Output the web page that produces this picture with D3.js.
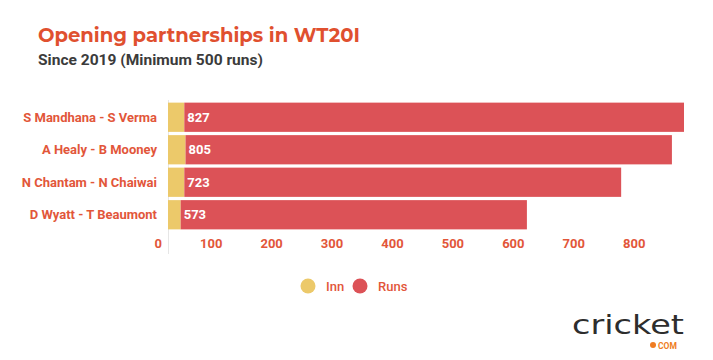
<!DOCTYPE html>
<html><head><meta charset="utf-8">
<script src="https://cdn.jsdelivr.net/npm/d3@7"></script>
<style>body{margin:0;background:#fff;}svg{display:block;}</style>
</head><body>
<svg id="c" width="713" height="360"></svg>
<script>
const categories = ["S Mandhana - S Verma","A Healy - B Mooney","N Chantam - N Chaiwai","D Wyatt - T Beaumont"];
const innValues = [27, 29, 27, 21];
const runsValues = [827, 805, 723, 573];
const tickValues = [0,100,200,300,400,500,600,700,800];
const seriesNames = ["Inn","Runs"];
const seriesColors = ["#ecc96a","#dc5257"];

const svg = d3.select("#c");
const orange = "#e2563a";

svg.append("text").attr("x",38).attr("y",42).text("Opening partnerships in WT20I")
  .attr("font-family","Montserrat, 'Noto Sans', sans-serif").attr("font-weight",700).attr("font-size",20).attr("fill","#e0502f")
  .attr("textLength",322).attr("lengthAdjust","spacingAndGlyphs");
svg.append("text").attr("x",38).attr("y",65).text("Since 2019 (Minimum 500 runs)")
  .attr("font-family","Roboto, sans-serif").attr("font-weight",700).attr("font-size",15.5).attr("fill","#3b3b3b")
  .attr("textLength",225).attr("lengthAdjust","spacingAndGlyphs");

const data = categories.map((c,i)=>({cat:c, inn:innValues[i], runs:runsValues[i]}));
const stack = d3.stack().keys(["inn","runs"])(data);
const maxTotal = d3.max(data, d=>d.inn+d.runs);
const x = d3.scaleLinear().domain([0,maxTotal]).range([168,684]);
const y = d3.scaleBand().domain(categories).range([101,231]).paddingInner(0.1).paddingOuter(0.05);

svg.append("line").attr("x1",168.5).attr("x2",168.5).attr("y1",100).attr("y2",254).attr("stroke","#e6e6e6");

stack.forEach((s,si)=>{
  svg.append("g").selectAll("rect").data(s).join("rect")
    .attr("x",d=>x(d[0])).attr("width",d=>x(d[1])-x(d[0]))
    .attr("y",d=>y(d.data.cat)).attr("height",y.bandwidth())
    .attr("fill",seriesColors[si]);
});

svg.append("g").selectAll("text").data(data).join("text")
  .attr("x",d=>x(d.inn)+3).attr("y",d=>y(d.cat)+y.bandwidth()/2).attr("dy","0.35em")
  .text(d=>d.runs).attr("font-family","Roboto, sans-serif").attr("font-weight",700).attr("font-size",13).attr("fill","#fff");

svg.append("g").selectAll("text").data(categories).join("text")
  .attr("x",157).attr("y",d=>y(d)+y.bandwidth()/2).attr("dy","0.35em").attr("text-anchor","end")
  .text(d=>d).attr("font-family","Roboto, sans-serif").attr("font-weight",700).attr("font-size",13).attr("fill",orange);

svg.append("g").selectAll("text").data(tickValues).join("text")
  .attr("x",d=>x(d)-6).attr("y",248).attr("text-anchor","end")
  .text(d=>d).attr("font-family","Roboto, sans-serif").attr("font-weight",700).attr("font-size",13).attr("fill",orange);

const lg = svg.append("g");
const legX = [308,360];
seriesNames.forEach((n,i)=>{
  lg.append("circle").attr("cx",legX[i]).attr("cy",286).attr("r",7.5).attr("fill",seriesColors[i]);
  lg.append("text").attr("x",legX[i]+18).attr("y",286).attr("dy","0.35em").text(n)
    .attr("font-family","Roboto, sans-serif").attr("font-weight",500).attr("font-size",13).attr("fill",orange);
});

// logo
svg.append("text").attr("x",572).attr("y",334).text("cricket")
  .attr("font-family","'DejaVu Sans', sans-serif").attr("font-size",27).attr("fill","#2d2d2d")
  .attr("textLength",112).attr("lengthAdjust","spacingAndGlyphs");
svg.append("circle").attr("cx",653).attr("cy",345).attr("r",3).attr("fill","#ef7d22");
svg.append("text").attr("x",658).attr("y",349).text("COM")
  .attr("font-family","Roboto, sans-serif").attr("font-weight",700).attr("font-size",8.5).attr("fill","#ef7d22");
</script>
</body></html>
